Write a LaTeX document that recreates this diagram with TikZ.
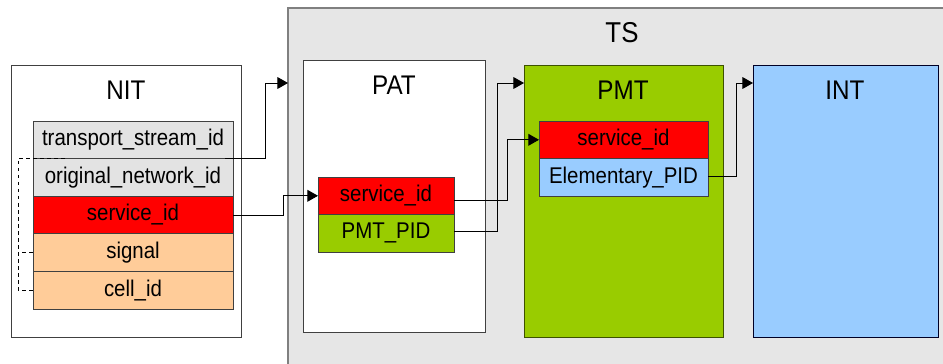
\documentclass[tikz,border=0pt]{standalone}
\usepackage{fontspec}
\setmainfont{Liberation Sans}[FakeStretch=0.9]
\usetikzlibrary{arrows.meta, calc, positioning}
\definecolor{tsgrau}{HTML}{E6E6E6}
\definecolor{feldgrau}{HTML}{E3E3E3}
\definecolor{rotfeld}{HTML}{FF0000}
\definecolor{pfirsich}{HTML}{FFCC99}
\definecolor{gruen}{HTML}{99CC00}
\definecolor{hellblau}{HTML}{99CCFF}
\definecolor{rand}{HTML}{404040}

\begin{document}
\begin{tikzpicture}[
        x=0.03cm, y=-0.03cm,
        every node/.style={inner sep=0pt, outer sep=0pt},
        tabelle/.style={draw=rand, line width=0.8pt, anchor=north west},
        titel/.style={font=\fontsize{23}{26}\selectfont},
        feld/.style={draw=rand, line width=0.8pt, minimum height=37.6*0.03cm,
                     font=\fontsize{19.4}{22}\selectfont, anchor=north west},
        link/.style={line width=0.8pt, -{Triangle[length=9pt, width=10pt]}},
      ]
      \useasboundingbox (0,0) rectangle (943,364);
      \clip (0,0) rectangle (943,364);

      % Transportstrom (TS)
      \fill[tsgrau] (288,8) rectangle (960,380);
      \draw[gray, line width=1.2pt] (288,380) -- (288,8) -- (960,8);
      \node[titel, font=\fontsize{24.5}{28}\selectfont] (ts) at (622,33) {TS};

      % Tabellen
      \node[tabelle, fill=white, minimum width=230*0.03cm, minimum height=272*0.03cm] (nit) at (11,65) {};
      \node[tabelle, fill=white, minimum width=182*0.03cm, minimum height=272*0.03cm] (pat) at (303,60) {};
      \node[tabelle, fill=gruen, draw=gruen!40!black, minimum width=199*0.03cm, minimum height=272*0.03cm] (pmt) at (524,65) {};
      \node[tabelle, fill=hellblau, draw=black!85!blue, minimum width=185*0.03cm, minimum height=272*0.03cm] (int) at (753,65) {};
      \node[titel] at (126,90) {NIT};
      \node[titel] at (394,85) {PAT};
      \node[titel] at (623,90) {PMT};
      \node[titel] at (845,90) {INT};

      % Felder NIT
      \node[feld, fill=feldgrau, minimum width=200*0.03cm] (tsid) at (33,121) {transport\_stream\_id};
      \node[feld, fill=feldgrau, minimum width=200*0.03cm, below=0pt of tsid] (onid) {original\_network\_id};
      \node[feld, fill=rotfeld, minimum width=200*0.03cm, below=0pt of onid] (nitsid) {service\_id};
      \node[feld, fill=pfirsich, minimum width=200*0.03cm, below=0pt of nitsid] (signal) {signal};
      \node[feld, fill=pfirsich, minimum width=200*0.03cm, below=0pt of signal] (cell) {cell\_id};

      % Felder PAT
      \node[feld, fill=rotfeld, minimum width=136*0.03cm] (patsid) at (318,177) {service\_id};
      \node[feld, fill=gruen, minimum width=136*0.03cm, below=0pt of patsid] (pmtpid) {PMT\_PID};

      % Felder PMT
      \node[feld, fill=rotfeld, minimum width=169*0.03cm] (pmtsid) at (539,121) {service\_id};
      \node[feld, fill=hellblau, minimum width=169*0.03cm, below=0pt of pmtsid] (epid) {Elementary\_PID};

      % gestrichelte Klammer
      \draw[dashed, line width=0.6pt] ($(tsid.south west)+(32,0)$) -- ++(-47,0) |- (cell.west);
      \draw[dashed, line width=0.6pt] (signal.west) -- ++(-15,0);

      % Verweise
      \draw[link] ($(tsid.south east)+(-8,0)$) -- ++(40,0) |- (288,83);
      \draw[link] (nitsid.east) -- ++(50,0) |- (patsid.west);
      \draw[link] ($(patsid.east)+(0,5)$) -- ++(53,0) |- (pmtsid.west);
      \draw[link] ($(pmtpid.east)+(0,-2)$) -- ++(43,0) |- (pmt.west |- 0,83);
      \draw[link] ($(epid.east)+(0,-1)$) -- ++(28,0) |- (int.west |- 0,83);
    \end{tikzpicture}
\end{document}
